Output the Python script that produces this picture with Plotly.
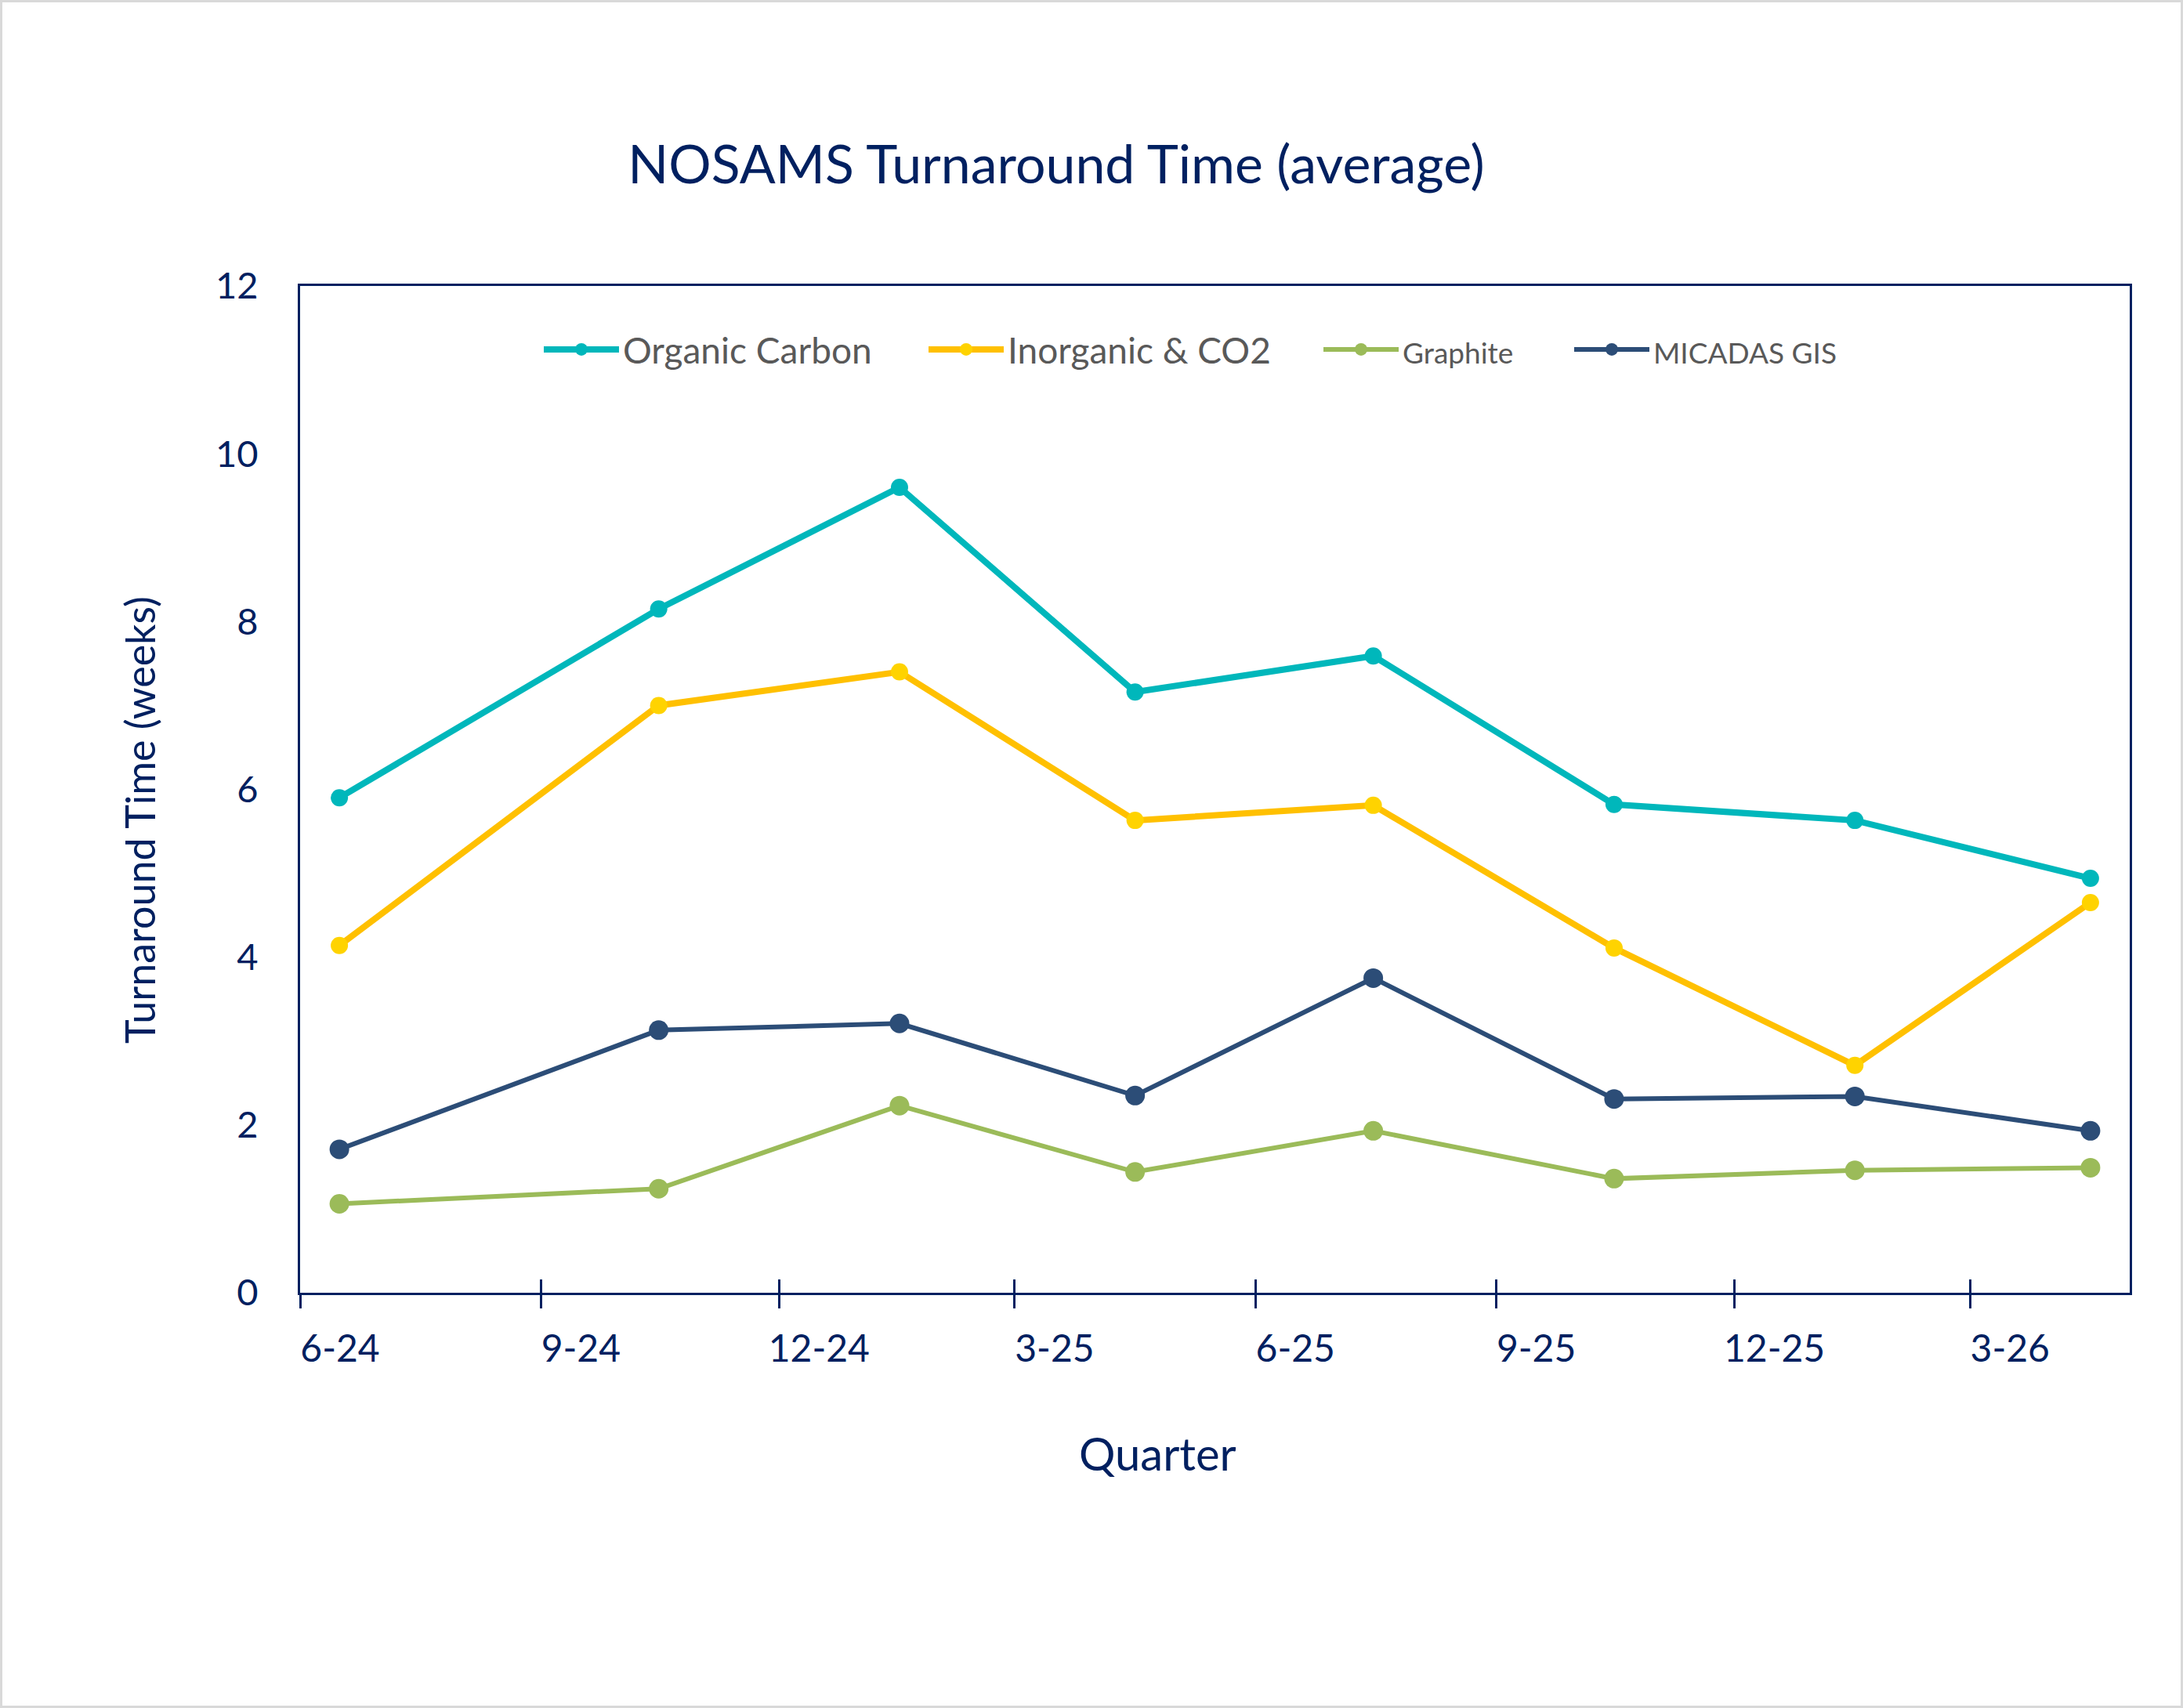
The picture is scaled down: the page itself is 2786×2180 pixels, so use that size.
import plotly.graph_objects as go

# ---------------- data ----------------
quarter_dates = ["2024-06-16", "2024-10-16", "2025-01-16", "2025-04-16",
                 "2025-07-16", "2025-10-16", "2026-01-16", "2026-04-16"]
series_names = ["Organic Carbon", "Inorganic & CO2", "Graphite", "MICADAS GIS"]
organic_carbon = [5.90, 8.15, 9.60, 7.16, 7.59, 5.82, 5.63, 4.94]
inorganic_co2 = [4.14, 7.00, 7.40, 5.63, 5.81, 4.11, 2.71, 4.65]
graphite = [1.06, 1.24, 2.23, 1.44, 1.93, 1.36, 1.46, 1.49]
micadas_gis = [1.71, 3.13, 3.21, 2.35, 3.75, 2.31, 2.34, 1.93]
y_ticks = [0, 2, 4, 6, 8, 10, 12]

# ---------------- style ----------------
NAVY = "#002060"
FONT = "Lato"
W, H = 2786, 2180
ML, MR, MT, MB = 383, 68, 365, 530
PW, PH = W - ML - MR, H - MT - MB

styles = [
    dict(line="#00B7BB", marker="#00B7BB", lw=8, ms=22, fs=46, xa="x"),
    dict(line="#FFC000", marker="#FFD300", lw=8, ms=22, fs=46, xa="x"),
    dict(line="#9BBB59", marker="#9BBB59", lw=6, ms=25, fs=37, xa="x2"),
    dict(line="#2C4D77", marker="#2C4D77", lw=6, ms=25, fs=37, xa="x2"),
]
legend_widths = [380, 393, 209, 230]
values = [organic_carbon, inorganic_co2, graphite, micadas_gis]

fig = go.Figure()
for name, vals, st, lwid in zip(series_names, values, styles, legend_widths):
    fig.add_trace(go.Scatter(
        x=quarter_dates, y=vals, mode="lines+markers",
        xaxis=st["xa"], yaxis="y",
        name=f"<span style='font-size:{st['fs']}px'>{name}</span>",
        line=dict(color=st["line"], width=st["lw"]),
        marker=dict(color=st["marker"], size=st["ms"], line=dict(width=0)),
        legendwidth=lwid,
        cliponaxis=False,
    ))

axis_common = dict(
    type="date", range=["2024-06-01", "2026-05-01"],
    tick0="2024-06-01", dtick="M3", showgrid=False, zeroline=False,
)

fig.update_layout(
    width=W, height=H, autosize=False,
    margin=dict(l=ML, r=MR, t=MT, b=MB),
    paper_bgcolor="white", plot_bgcolor="white",
    font=dict(family=FONT, color=NAVY),
    title=dict(text="NOSAMS Turnaround Time (average)",
               font=dict(family=FONT, size=68, color=NAVY),
               xref="container", x=1348 / W, xanchor="center",
               yref="container", y=1 - 210 / H, yanchor="middle"),
    xaxis=dict(**axis_common, tickformat="%-m-%y",
               ticks="outside", ticklen=17, tickwidth=3, tickcolor=NAVY,
               showline=True, linecolor=NAVY, linewidth=3, mirror=True,
               tickfont=dict(family=FONT, size=48, color=NAVY),
               ticklabelshift=51, ticklabelstandoff=10),
    xaxis2=dict(**axis_common, overlaying="x", matches="x", anchor="y",
                side="bottom", ticks="inside", ticklen=17, tickwidth=3,
                tickcolor=NAVY, showticklabels=False, showline=False),
    yaxis=dict(range=[0, 12], tickvals=y_ticks, showgrid=False, zeroline=False,
               showline=True, linecolor=NAVY, linewidth=3, mirror=True,
               ticks="", ticklabelstandoff=41,
               tickfont=dict(family=FONT, size=47, color=NAVY)),
    legend=dict(orientation="h", x=(689 - ML) / PW, xanchor="left",
                y=(MT + PH - 446) / PH, yanchor="middle",
                font=dict(family=FONT, size=46, color="#595959"),
                bgcolor="rgba(0,0,0,0)", itemwidth=96),
    showlegend=True,
    annotations=[
        dict(text="Quarter", xref="paper", yref="paper",
             x=(1477 - ML) / PW, y=(MT + PH - 1855) / PH,
             xanchor="center", yanchor="middle", showarrow=False,
             font=dict(family=FONT, size=58, color=NAVY)),
        dict(text="Turnaround Time (weeks)", xref="paper", yref="paper",
             x=(178 - ML) / PW, y=(MT + PH - 1047) / PH, textangle=-90,
             xanchor="center", yanchor="middle", showarrow=False,
             font=dict(family=FONT, size=52, color=NAVY)),
    ],
    shapes=[dict(type="rect", xref="paper", yref="paper",
                 x0=(1.5 - ML) / PW, x1=(W - 1.5 - ML) / PW,
                 y0=(MT + PH - (H - 1.5)) / PH, y1=(MT + PH - 1.5) / PH,
                 line=dict(color="#D9D9D9", width=3), layer="below")],
)

fig.write_html("out.html")
